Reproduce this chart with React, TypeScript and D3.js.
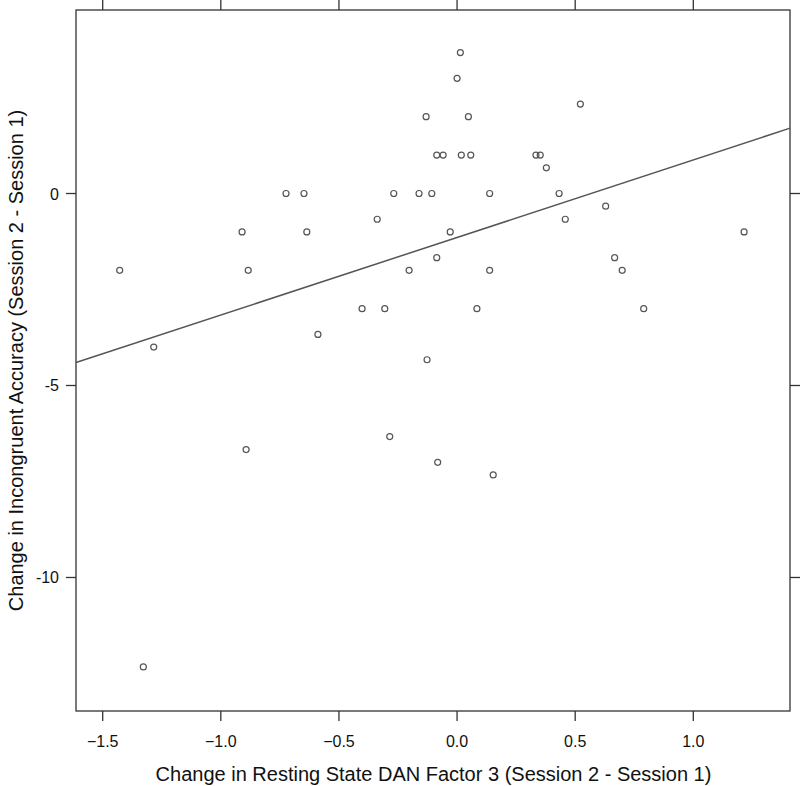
import React from "react";
import * as d3 from "d3";

// Change in Resting State DAN Factor 3 (x) vs change in incongruent accuracy (y)
const xValues: number[] = [
  -1.428, -1.284, -1.328, -0.91, -0.884, -0.893, -0.724, -0.648, -0.636, -0.589,
  -0.402, -0.338, -0.306, -0.285, -0.268, -0.203, -0.161, -0.131, -0.127, -0.107,
  -0.086, -0.086, -0.082, -0.059, -0.029, 0.0, 0.014, 0.018, 0.048, 0.058,
  0.084, 0.138, 0.138, 0.153, 0.334, 0.352, 0.378, 0.432, 0.458, 0.522,
  0.629, 0.667, 0.699, 0.79, 1.215,
];
const yValues: number[] = [
  -2, -4, -12.33, -1, -2, -6.67, 0, 0, -1, -3.67,
  -3, -0.67, -3, -6.33, 0, -2, 0, 2, -4.33, 0,
  1, -1.67, -7, 1, -1, 3, 3.67, 1, 2, 1,
  -3, 0, -2, -7.33, 1, 1, 0.67, 0, -0.67, 2.33,
  -0.33, -1.67, -2, -3, -1,
];

const xTicks: number[] = [-1.5, -1.0, -0.5, 0.0, 0.5, 1.0];
const yTicks: number[] = [0, -5, -10];

const FIT_INTERCEPT = -1.145;
const FIT_SLOPE = 2.02;

const X_DOMAIN: [number, number] = [-1.613, 1.4093];
const Y_DOMAIN: [number, number] = [-13.477, 4.779];

const xLabel = "Change in Resting State DAN Factor 3 (Session 2 - Session 1)";
const yLabel = "Change in Incongruent Accuracy (Session 2 - Session 1)";

export default function App() {
  const W = 800;
  const H = 786;
  const left = 76, right = 790, top = 10, bottom = 711;
  const x = d3.scaleLinear().domain(X_DOMAIN).range([left, right]);
  const y = d3.scaleLinear().domain(Y_DOMAIN).range([bottom, top]);
  const tickLen = 10;
  const font = "Liberation Sans, Arial, Helvetica, sans-serif";
  const ink = "#333";
  const pts = xValues.map((v, i) => ({ x: v, y: yValues[i] }));
  const fitLine = d3.line<number>()
    .x((d) => x(d))
    .y((d) => y(FIT_INTERCEPT + FIT_SLOPE * d));

  return (
    <svg
      width={W}
      height={H}
      style={{ position: "absolute", left: 0, top: 0, background: "#fff" }}
      fontFamily={font}
    >
      <rect x={0} y={0} width={W} height={H} fill="#fff" />
      {/* frame */}
      <rect
        x={left}
        y={top}
        width={right - left}
        height={bottom - top}
        fill="none"
        stroke={ink}
        strokeWidth={1.3}
      />
      {/* x ticks bottom & top */}
      {xTicks.map((t) => (
        <g key={"xt" + t}>
          <line x1={x(t)} x2={x(t)} y1={bottom} y2={bottom + tickLen} stroke={ink} strokeWidth={1.3} />
          <line x1={x(t)} x2={x(t)} y1={top} y2={top - tickLen} stroke={ink} strokeWidth={1.3} />
          <text x={x(t)} y={746.5} textAnchor="middle" fontSize={16} fill="#111">
            {d3.format(".1f")(t)}
          </text>
        </g>
      ))}
      {/* y ticks left & right */}
      {yTicks.map((t) => (
        <g key={"yt" + t}>
          <line x1={left} x2={left - tickLen} y1={y(t)} y2={y(t)} stroke={ink} strokeWidth={1.3} />
          <line x1={right} x2={right + tickLen} y1={y(t)} y2={y(t)} stroke={ink} strokeWidth={1.3} />
          <text x={59} y={y(t) + 6} textAnchor="end" fontSize={16} fill="#111">
            {String(t)}
          </text>
        </g>
      ))}
      {/* regression line */}
      <path d={fitLine(X_DOMAIN) || ""} fill="none" stroke="#555" strokeWidth={1.5} />
      {/* points */}
      {pts.map((p, i) => (
        <circle
          key={i}
          cx={x(p.x)}
          cy={y(p.y)}
          r={3}
          fill="none"
          stroke="#555"
          strokeWidth={1.2}
        />
      ))}
      {/* axis labels */}
      <text x={433.5} y={781} textAnchor="middle" fontSize={20} fill="#111">
        {xLabel}
      </text>
      <text
        transform={`translate(23,${(top + bottom) / 2}) rotate(-90)`}
        textAnchor="middle"
        fontSize={20}
        fill="#111"
      >
        {yLabel}
      </text>
    </svg>
  );
}
